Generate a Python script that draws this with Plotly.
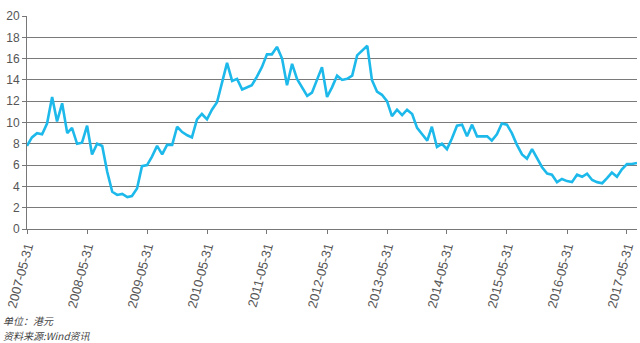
import pandas as pd
import plotly.graph_objects as go

# Month-end observation dates, May 2007 – July 2017
dates = pd.date_range("2007-05-31", "2017-07-31", freq="ME")

# Monthly values (HKD)
values = [
    7.8, 8.6, 9.0, 8.9, 9.9, 12.4, 10.1, 11.8, 9.0, 9.5, 8.0, 8.1,
    9.7, 7.0, 8.0, 7.8, 5.4, 3.5, 3.2, 3.3, 3.0, 3.1, 3.8, 5.9,
    6.0, 6.8, 7.8, 7.0, 7.9, 7.9, 9.6, 9.1, 8.8, 8.6, 10.3, 10.8,
    10.3, 11.2, 11.9, 13.7, 15.6, 13.9, 14.1, 13.1, 13.3, 13.5, 14.3, 15.2,
    16.4, 16.4, 17.1, 16.0, 13.5, 15.5, 14.1, 13.3, 12.5, 12.8, 14.0, 15.2,
    12.4, 13.3, 14.4, 14.0, 14.1, 14.4, 16.3, 16.8, 17.2, 14.0, 12.9, 12.6,
    12.0, 10.6, 11.2, 10.7, 11.2, 10.8, 9.5, 8.9, 8.3, 9.6, 7.7, 8.0,
    7.5, 8.5, 9.7, 9.8, 8.7, 9.8, 8.7, 8.7, 8.7, 8.3, 8.9, 9.9,
    9.8, 9.0, 7.9, 7.0, 6.6, 7.5, 6.6, 5.8, 5.2, 5.1, 4.4, 4.7,
    4.5, 4.4, 5.1, 4.9, 5.2, 4.6, 4.4, 4.3, 4.8, 5.3, 4.9, 5.6,
    6.1, 6.1, 6.2,
]

# Annual tick positions on the x axis
tick_dates = pd.date_range("2007-05-31", "2017-05-31", freq="12ME")
tick_text = [d.strftime("%Y-%m-%d") for d in tick_dates]

y_ticks = list(range(0, 21, 2))

fig = go.Figure(
    go.Scatter(
        x=dates,
        y=values,
        mode="lines",
        line=dict(color="#1cb9ea", width=2.6),
        hoverinfo="x+y",
    )
)

fig.update_layout(
    width=640,
    height=343,
    margin=dict(l=27, r=3, t=16, b=114),
    plot_bgcolor="white",
    paper_bgcolor="white",
    showlegend=False,
    font=dict(family="Liberation Sans, Arial, sans-serif", size=12, color="#555555"),
)

fig.update_xaxes(
    range=[dates[0], dates[-1]],
    tickmode="array",
    tickvals=tick_dates,
    ticktext=tick_text,
    tickangle=-75,
    ticks="outside",
    ticklen=4,
    tickcolor="#777777",
    showgrid=False,
    showline=True,
    linecolor="#777777",
    linewidth=1,
    zeroline=False,
    tickfont=dict(size=13, color="#555555"),
)

fig.update_yaxes(
    range=[0, 20],
    tickmode="array",
    tickvals=y_ticks,
    ticks="outside",
    ticklen=4,
    tickcolor="#777777",
    showgrid=True,
    gridcolor="#7a7a7a",
    gridwidth=1,
    showline=True,
    linecolor="#777777",
    linewidth=1,
    zeroline=False,
    tickfont=dict(size=12, color="#555555"),
)

# Source notes below the axis
notes = ["单位：港元", "资料来源:Wind资讯"]
for i, note in enumerate(notes):
    fig.add_annotation(
        text=f"<i>{note}</i>",
        xref="paper", yref="paper",
        x=0, y=0, xanchor="left", yanchor="middle",
        xshift=-26, yshift=-91 - 15 * i,
        showarrow=False,
        font=dict(family="Noto Sans CJK SC, sans-serif", size=10, color="#444444"),
    )

fig.write_html("out.html")
